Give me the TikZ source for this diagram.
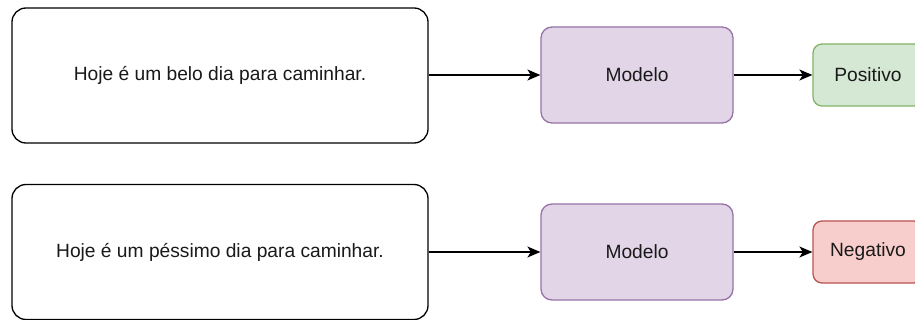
\documentclass[tikz,border=0pt]{standalone}
\usepackage{fontspec}
\setmainfont{Liberation Sans}
\usetikzlibrary{arrows.meta}
\definecolor{purpfill}{HTML}{E1D5E7}
\definecolor{purpdraw}{HTML}{9673A6}
\definecolor{grnfill}{HTML}{D5E8D4}
\definecolor{grndraw}{HTML}{82B366}
\definecolor{redfill}{HTML}{F8CECC}
\definecolor{reddraw}{HTML}{B85450}
\begin{document}
\begin{tikzpicture}[x=1pt,y=-1pt,
  every node/.style={font=\fontsize{19.2}{23}\selectfont, inner sep=0pt, text=black!90},
  textbox/.style={draw=black, line width=1.3pt, rounded corners=14pt, minimum width=416pt, minimum height=135pt},
  modelbox/.style={draw=purpdraw, fill=purpfill, line width=1.3pt, rounded corners=11pt, minimum width=192pt, minimum height=96pt},
  posbox/.style={draw=grndraw, fill=grnfill, line width=1.3pt, rounded corners=9pt, minimum width=110pt, minimum height=62pt},
  negbox/.style={draw=reddraw, fill=redfill, line width=1.3pt, rounded corners=9pt, minimum width=110pt, minimum height=62pt},
  conn/.style={draw=black, line width=1.3pt, -{Stealth[length=13pt,width=11pt,inset=3.5pt]}}]
\useasboundingbox (0,0) rectangle (915,320);
\clip (0,0) rectangle (915,320);
\node[textbox] (s1) at (220,75.5) {Hoje é um belo dia para caminhar.};
\node[modelbox] (m1) at (637,75) {Modelo};
\node[posbox] (p) at (868,75) {Positivo};
\node[textbox] (s2) at (220,252) {Hoje é um péssimo dia para caminhar.};
\node[modelbox] (m2) at (637,252) {Modelo};
\node[negbox] (n) at (868,252) {Negativo};
\draw[conn] (s1.east |- m1.west) -- (m1.west);
\draw[conn] (m1.east) -- (p.west);
\draw[conn] (s2.east |- m2.west) -- (m2.west);
\draw[conn] (m2.east) -- (n.west);
\end{tikzpicture}
\end{document}
